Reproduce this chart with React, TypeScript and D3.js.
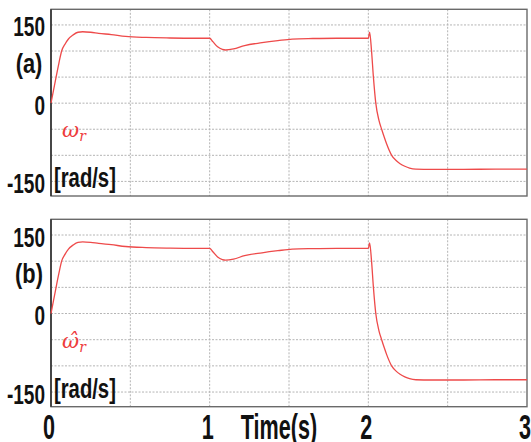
import React, { useEffect, useRef } from "react";
import * as d3 from "d3";

// time axis (s) and rotor speed samples (rad/s)
const time = [
  0, 0.016, 0.032, 0.05, 0.067, 0.09, 0.11, 0.14, 0.17, 0.2, 0.25, 0.3, 0.38,
  0.47, 0.6, 0.75, 0.9, 1.0, 1.02, 1.05, 1.08, 1.1, 1.15, 1.22, 1.33, 1.43,
  1.52, 1.65, 1.8, 2.0, 2.008, 2.02, 2.032, 2.047, 2.067, 2.084, 2.1, 2.115,
  2.147, 2.175, 2.2, 2.23, 2.26, 2.3, 2.4, 2.6, 2.8, 3.0,
];
const omega = [
  0, 25, 50, 77, 100, 114, 123, 131, 136, 137, 136, 134, 131.5, 128, 126, 125,
  124.5, 124.5, 118, 108, 103, 102, 104, 110.5, 116, 120, 123, 124, 124.5,
  124.5, 136, 101, 50, 0, -33, -50, -65, -78, -100, -110, -116, -121, -124.5,
  -126.5, -127, -127, -126.5, -126.5,
];
const omegaHat = [
  0, 25, 50, 77, 100, 114, 123, 131, 136, 137, 136, 134, 131.5, 128, 126, 125,
  124.5, 124.5, 118, 108, 103, 102, 104, 110.5, 116, 120, 123, 124, 124.5,
  124.5, 135, 101, 50, 0, -33, -50, -65, -78, -100, -110, -116, -121, -124.5,
  -126.5, -127, -127, -126.5, -126.5,
];
const yTicks = [150, 0, -150];
const yGrid = [150, 100, 50, 0, -50, -100, -150];
const xGrid = [0.5, 1, 1.5, 2, 2.5];
const xTicks = [0, 1, 2, 3];

const W = 531;
const H = 442;
const left = 51;
const right = 527;
const FONT = "'Liberation Sans', Arial, sans-serif";

function App() {
  const svgRef = useRef(null);

  useEffect(() => {
    const svg = d3.select(svgRef.current);
    svg.selectAll("*").remove();

    const x = d3.scaleLinear().domain([0, 3]).range([left, right]);

    const drawPanel = (top, bottom, values, tag, symbol) => {
      const y = d3.scaleLinear().domain([-178, 180]).range([bottom, top]);
      const g = svg.append("g");

      // dotted grid
      g.selectAll(".hg")
        .data(yGrid)
        .join("line")
        .attr("x1", left)
        .attr("x2", right)
        .attr("y1", (d) => y(d))
        .attr("y2", (d) => y(d))
        .attr("stroke", "#b4b4b4")
        .attr("stroke-width", 1)
        .attr("stroke-dasharray", "2,1.5");
      g.selectAll(".vg")
        .data(xGrid)
        .join("line")
        .attr("x1", (d) => x(d))
        .attr("x2", (d) => x(d))
        .attr("y1", top)
        .attr("y2", bottom)
        .attr("stroke", "#b4b4b4")
        .attr("stroke-width", 1)
        .attr("stroke-dasharray", "2,1.5");

      // frame
      g.append("rect")
        .attr("x", left)
        .attr("y", top)
        .attr("width", right - left)
        .attr("height", bottom - top)
        .attr("fill", "none")
        .attr("stroke", "#6a6a6a")
        .attr("stroke-width", 1.4);
      g.append("line")
        .attr("x1", left)
        .attr("x2", left)
        .attr("y1", top)
        .attr("y2", bottom)
        .attr("stroke", "#333")
        .attr("stroke-width", 1.6);

      // curve
      const line = d3
        .line()
        .x((d, i) => x(time[i]))
        .y((d) => y(d))
        .curve(d3.curveMonotoneX);
      g.append("path")
        .datum(values)
        .attr("d", line)
        .attr("fill", "none")
        .attr("stroke", "#ee4a4a")
        .attr("stroke-width", 1.3);

      // y tick labels
      g.selectAll(".yt")
        .data(yTicks)
        .join("text")
        .attr("transform", (d) => `translate(45,${y(d) + 11.5}) scale(0.68,1)`)
        .attr("text-anchor", "end")
        .attr("font-family", FONT)
        .attr("font-weight", "bold")
        .attr("font-size", 28)
        .attr("fill", "#111")
        .text((d) => d);

      g.append("text")
        .attr("transform", `translate(29,${y(75) + 9}) scale(0.78,1)`)
        .attr("text-anchor", "middle")
        .attr("font-family", FONT)
        .attr("font-weight", "bold")
        .attr("font-size", 28)
        .attr("fill", "#111")
        .text(tag);

      g.append("text")
        .attr("transform", `translate(54,${y(-150) + 6}) scale(0.75,1)`)
        .attr("font-family", FONT)
        .attr("font-weight", "bold")
        .attr("font-size", 27)
        .attr("fill", "#111")
        .text("[rad/s]");

      // signal label
      const lbl = g
        .append("text")
        .attr("x", 62)
        .attr("y", y(-65))
        .attr("font-family", "'DejaVu Serif', serif")
        .attr("font-style", "italic")
        .attr("font-size", 21)
        .attr("fill", "#ee3b3b");
      lbl.append("tspan").text(symbol);
      lbl.append("tspan").attr("font-size", 14).attr("dy", 4).text("r");
    };

    drawPanel(9.3, 196, omega, "(a)", "ω");
    drawPanel(219.3, 406.7, omegaHat, "(b)", "ω\u0302");

    // x tick labels
    svg
      .selectAll(".xt")
      .data(xTicks)
      .join("text")
      .attr("transform", (d) => `translate(${x(d) - 2},439) scale(0.6,1)`)
      .attr("text-anchor", "middle")
      .attr("font-family", FONT)
      .attr("font-weight", "bold")
      .attr("font-size", 36)
      .attr("fill", "#111")
      .text((d) => d);

    svg
      .append("text")
      .attr("transform", `translate(279,439) scale(0.6,1)`)
      .attr("text-anchor", "middle")
      .attr("font-family", FONT)
      .attr("font-weight", "bold")
      .attr("font-size", 36)
      .attr("fill", "#111")
      .text("Time(s)");
  }, []);

  return (
    <div>
      <style>{`body{margin:0}`}</style>
      <svg
        ref={svgRef}
        width={W}
        height={H}
        style={{ display: "block", background: "#fff" }}
      ></svg>
    </div>
  );
}

export default App;
